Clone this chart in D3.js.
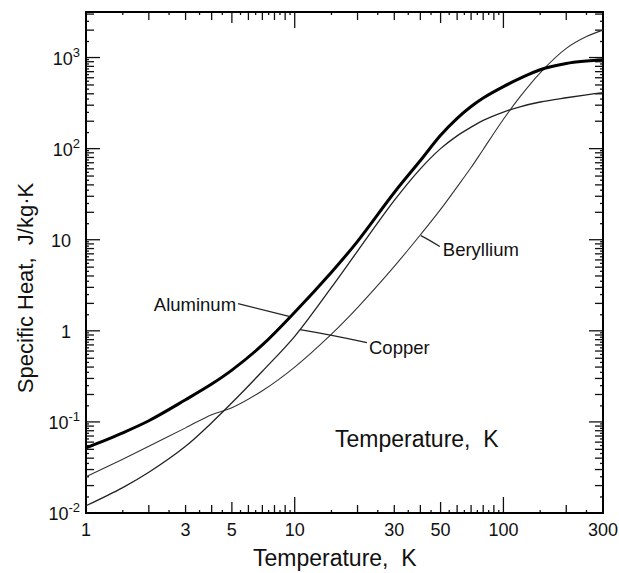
<!DOCTYPE html>
<html lang="en">
<head>
<meta charset="UTF-8">
<title>Specific Heat vs Temperature</title>
<style>
    html, body { margin: 0; padding: 0; background: #fff; }
    svg text { font-family: "Liberation Sans", Arial, Helvetica, sans-serif; fill: #111; }
</style>
</head>
<body>
<script src="https://cdn.jsdelivr.net/npm/d3@7/dist/d3.min.js"></script>
<script>
// temperature grid, K
var temps = [1, 1.5, 2, 3, 4, 5, 7, 10, 15, 20, 30, 40, 50, 60, 70, 80, 100, 120, 150, 200, 250, 300];
// specific heat, J/kg.K
var aluminum = [0.052, 0.076, 0.103, 0.175, 0.26, 0.37, 0.70, 1.6, 4.4, 9.6, 33, 74, 140, 215, 290, 360, 480, 590, 735, 860, 915, 945];
var copper = [0.012, 0.019, 0.028, 0.054, 0.098, 0.162, 0.36, 0.87, 3.0, 7.5, 27, 60, 100, 138, 172, 204, 252, 288, 325, 362, 390, 412];
var beryllium = [0.025, 0.039, 0.054, 0.086, 0.12, 0.143, 0.22, 0.40, 0.92, 1.8, 5.1, 11.3, 21.5, 38, 62, 98, 210, 370, 680, 1260, 1700, 2000];

var xTickLabels = [1, 3, 5, 10, 30, 50, 100, 300];
var yTickExps = [-2, -1, 0, 1, 2, 3];

// labels on the curves: name, temperature and value where the leader touches
var annNames = ["Aluminum", "Copper", "Beryllium"];
var annT = [9.5, 10.6, 40.2];
var annV = [1.43, 1.03, 11.1];

var W = 619, H = 573;
var m = { left: 86, top: 12, right: 16, bottom: 60 };

var svg = d3.select("body").append("svg").attr("width", W).attr("height", H);

var x = d3.scaleLog().domain([1, 300]).range([m.left, W - m.right]);
var y = d3.scaleLog().domain([0.01, Math.pow(10, 3.5)]).range([H - m.bottom, m.top]);

var x0 = m.left, x1 = W - m.right, y0 = H - m.bottom, y1 = m.top;

// ticks, pointing inward on all four sides
var ticks = svg.append("g").attr("stroke", "#111").attr("stroke-width", 1.3);
for (var e = 0; e <= 2; e++) {
    for (var k = 1; k < 10; k += 0.5) {
        var v = k * Math.pow(10, e);
        if (v > 300 || v === 1) continue;
        var len = k === 1 ? 16 : (k === 5 ? 11 : (k % 1 === 0 ? 8 : 3));
        ticks.append("line").attr("x1", x(v)).attr("x2", x(v)).attr("y1", y0).attr("y2", y0 - len);
        ticks.append("line").attr("x1", x(v)).attr("x2", x(v)).attr("y1", y1).attr("y2", y1 + len);
    }
}
for (var e = -2; e <= 3; e++) {
    for (var k = 1; k < 10; k += 0.5) {
        var v = k * Math.pow(10, e);
        if (v > Math.pow(10, 3.5) || v === 0.01) continue;
        var len = k === 1 ? 14 : (k % 1 === 0 ? 8 : 3);
        ticks.append("line").attr("x1", x0).attr("x2", x0 + len).attr("y1", y(v)).attr("y2", y(v));
        ticks.append("line").attr("x1", x1).attr("x2", x1 - len).attr("y1", y(v)).attr("y2", y(v));
    }
}

// frame
svg.append("rect").attr("x", x0).attr("y", y1).attr("width", x1 - x0).attr("height", y0 - y1)
    .attr("fill", "none").attr("stroke", "#000").attr("stroke-width", 2);

// x tick labels
svg.append("g").selectAll("text").data(xTickLabels).enter().append("text")
    .attr("x", function (d) { return x(d); })
    .attr("y", y0 + 23)
    .attr("text-anchor", "middle")
    .attr("font-size", 18)
    .text(function (d) { return d; });

// y tick labels
var yl = svg.append("g").selectAll("text").data(yTickExps).enter().append("text")
    .attr("y", function (d) { return y(Math.pow(10, d)) + 7; })
    .attr("font-size", 18)
    .attr("text-anchor", "end")
    .attr("x", function (d) { return (d === 0 || d === 1) ? 71 : 80; });
yl.each(function (d) {
    var t = d3.select(this);
    if (d === 0) { t.text("1"); return; }
    if (d === 1) { t.text("10"); return; }
    t.append("tspan").text("10");
    t.append("tspan").attr("font-size", 13).attr("dy", -8).text(d);
});

// curves
var line = d3.line()
    .x(function (d) { return x(d[0]); })
    .y(function (d) { return y(d[1]); })
    .curve(d3.curveCatmullRom.alpha(0.5));

var series = [
    { vals: beryllium, w: 1.1, c: "#333" },
    { vals: copper, w: 1.3, c: "#222" },
    { vals: aluminum, w: 3, c: "#000" }
];
series.forEach(function (s) {
    svg.append("path")
        .datum(temps.map(function (t, i) { return [t, s.vals[i]]; }))
        .attr("d", line)
        .attr("fill", "none")
        .attr("stroke", s.c)
        .attr("stroke-width", s.w);
});

// curve labels with leaders
var lbl = [
    { anchor: "end", tx: -54, ty: -6, lx: -52, ly: -13, cx: -24, cy: -6 },
    { anchor: "start", tx: 69, ty: 24, lx: 67, ly: 13, cx: 30, cy: 5 },
    { anchor: "start", tx: 22, ty: 20, lx: 19, ly: 11, cx: 8, cy: 4 }
];
annNames.forEach(function (n, i) {
    var px = x(annT[i]), py = y(annV[i]), o = lbl[i];
    svg.append("path")
        .attr("d", "M" + px + "," + py + "Q" + (px + o.cx) + "," + (py + o.cy) + " " + (px + o.lx) + "," + (py + o.ly))
        .attr("fill", "none").attr("stroke", "#222").attr("stroke-width", 1.2);
    svg.append("text")
        .attr("x", px + o.tx).attr("y", py + o.ty)
        .attr("text-anchor", o.anchor)
        .attr("font-size", 18.5)
        .text(n);
});

// in-plot label
svg.append("text").attr("x", 335).attr("y", 447).attr("font-size", 23)
    .attr("xml:space", "preserve").text("Temperature,  K");

// axis titles
svg.append("text").attr("x", 253).attr("y", 566).attr("font-size", 23)
    .attr("xml:space", "preserve").text("Temperature,  K");

svg.append("text")
    .attr("transform", "translate(33," + 288 + ") rotate(-90)")
    .attr("text-anchor", "middle")
    .attr("font-size", 22)
    .attr("xml:space", "preserve")
    .text("Specific Heat,  J/kg\u00b7K");
</script>
</body>
</html>
